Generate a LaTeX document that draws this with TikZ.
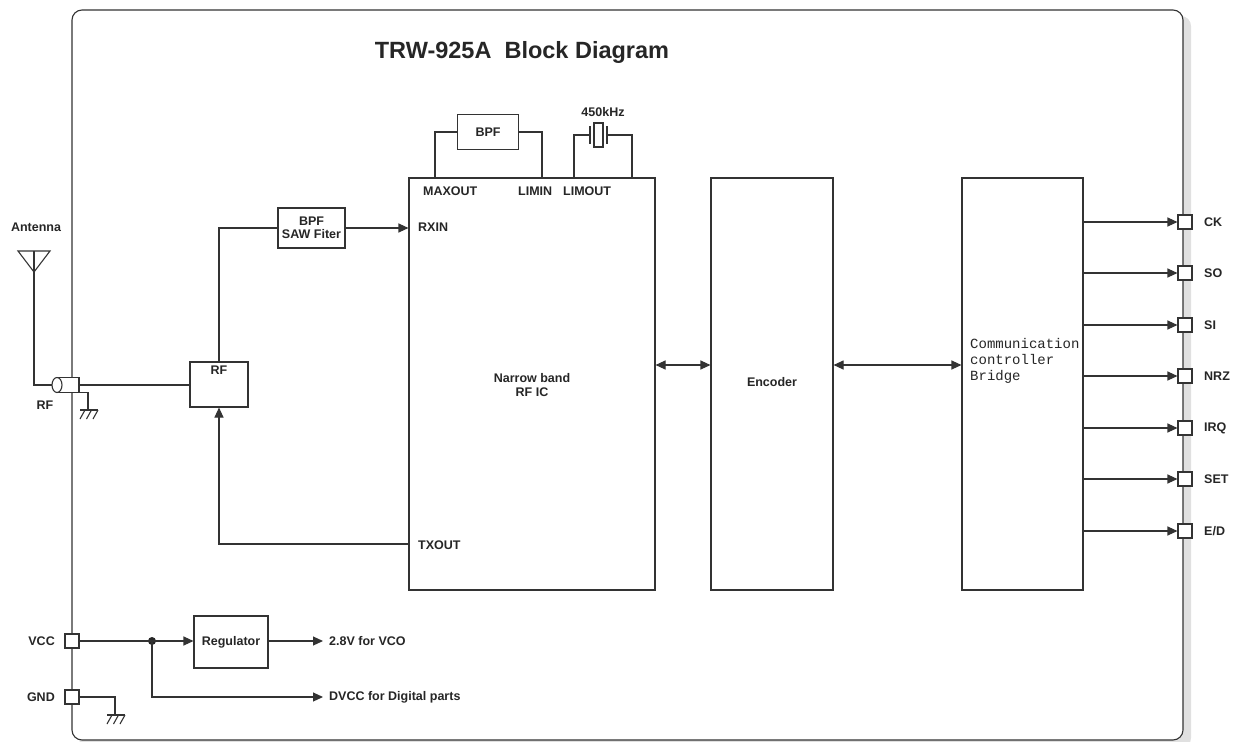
\documentclass[tikz,border=0pt]{standalone}
\usepackage{fontspec}
\setmainfont{Liberation Sans}
\newfontfamily\monofont{Liberation Mono}
\usetikzlibrary{arrows.meta,positioning}

\tikzset{
  wire/.style={draw=black!80, line width=1.1pt},
  blk/.style={wire, rectangle, fill=white, inner sep=0pt},
  port/.style={blk, minimum size=14pt},
  lbl/.style={font=\fontsize{12.5}{14}\selectfont\bfseries, text=black!85, inner sep=1pt},
  arr/.style={wire, -{Triangle[length=10pt,width=9pt]}},
  darr/.style={wire, {Triangle[length=10pt,width=9pt]}-{Triangle[length=10pt,width=9pt]}},
  gnd/.pic={
    \draw[wire] (-8,0) -- (10,0);
    \draw[wire] (-3,0) -- (-8,9) (3.5,0) -- (-1.5,9) (10,0) -- (5,9);
  }
}

\begin{document}
\begin{tikzpicture}[x=1pt,y=-1pt]
\useasboundingbox (0,0) rectangle (1243,742);

% frame with shadow
\fill[black!12, rounded corners=10pt] (79,16) rectangle (1191,748);
\draw[wire, fill=white, rounded corners=10pt] (72,10) rectangle (1183,740);

\node[font=\fontsize{23.5}{26}\selectfont\bfseries, text=black!85] (title) at (522,52) {TRW-925A\ \ Block Diagram};

% main blocks
\node[blk, minimum width=246pt, minimum height=412pt] (ic) at (532,384) {};
\node[blk, minimum width=122pt, minimum height=412pt] (enc) at (772,384) {};
\node[blk, minimum width=121pt, minimum height=412pt] (comm) at (1022.5,384) {};

\node[lbl, align=center] (iclbl) at (532,385) {Narrow band\\RF IC};
\node[lbl] (enclbl) at (772,382) {Encoder};
\node[anchor=west, align=left, font=\monofont\fontsize{14}{16}\selectfont, text=black!85, inner sep=0pt] (commlbl) at (970,361) {Communication\\controller\\Bridge};

\node[lbl, anchor=west] (maxout) at (422,191) {MAXOUT};
\node[lbl, anchor=west] (limin) at (517,191) {LIMIN};
\node[lbl, anchor=west] (limout) at (562,191) {LIMOUT};
\node[lbl, anchor=west] (rxin) at (417,227) {RXIN};
\node[lbl, anchor=west] (txout) at (417,545) {TXOUT};

\draw[darr] (ic.east |- 0,365) -- (enc.west |- 0,365);
\draw[darr] (enc.east |- 0,365) -- (comm.west |- 0,365);

% IF filter and crystal
\node[blk, minimum width=61pt, minimum height=35pt] (bpf) at (488,132) {};
\node[lbl] at (bpf) {BPF};
\coordinate (maxpin) at (435,178);
\coordinate (liminpin) at (542,178);
\draw[wire] (maxpin) |- (bpf.west);
\draw[wire] (liminpin) |- (bpf.east);

\coordinate (limoutpin) at (574,178);
\coordinate (xtalpin) at (632,178);
\draw[wire, fill=white] (594,123) rectangle (603,147);
\draw[wire] (590,126) -- (590,144) (607,126) -- (607,144);
\draw[wire] (limoutpin) |- (590,135);
\draw[wire] (xtalpin) |- (607,135);
\node[lbl] (xtal) at (603,112) {450kHz};

% RF front end
\node[blk, minimum width=67pt, minimum height=40pt] (saw) at (311.5,228) {};
\node[lbl, align=center, font=\fontsize{12.5}{13.5}\selectfont\bfseries] at (saw) {BPF\\SAW Fiter};
\draw[arr] (saw.east) -- (saw.east -| ic.west);

\node[blk, minimum width=58pt, minimum height=45pt] (rf) at (219,384.5) {};
\node[lbl, below=3pt of rf.north] (rflbl) {RF};
\draw[wire] (saw.west) -| (rf.north);
\coordinate (txpin) at (409,544);
\draw[arr] (txpin) -| (rf.south);

% antenna and connector
\node[lbl] (antlbl) at (36,227) {Antenna};
\draw[wire] (18,251) -- (50,251) -- (34,272) -- cycle;
\draw[wire] (34,251) -- (34,385) -- (52,385);
\draw[wire, fill=white] (57,377.5) rectangle (79,392.5);
\draw[wire, fill=white] (57,385) ellipse [x radius=5, y radius=7.5];
\coordinate (coax) at (79,385);
\draw[wire] (coax) -- (rf.west |- coax);
\draw[wire] (79,392.5) -| (88,410);
\pic at (88,410) {gnd};
\node[lbl] (rfconlbl) at (45,405) {RF};

% outputs
\foreach \y/\name in {222/CK, 273/SO, 325/SI, 376/NRZ, 428/IRQ, 479/SET, 531/E\slash D} {
  \node[port] (p\y) at (1185,\y) {};
  \node[lbl, anchor=west] at (1203,\y) {\name};
  \draw[arr] (comm.east |- p\y) -- (p\y.west);
}

% power
\node[port] (vcc) at (72,641) {};
\node[port] (gnd) at (72,697) {};
\node[lbl, anchor=east] at (56,641) {VCC};
\node[lbl, anchor=east] at (56,697) {GND};
\node[blk, minimum width=74pt, minimum height=52pt] (reg) at (231,642) {};
\node[lbl] at (reg) {Regulator};
\coordinate (dot) at (152,641);
\fill[black!85] (dot) circle (4pt);
\draw[wire] (vcc.east) -- (dot);
\draw[arr] (dot) -- (reg.west |- dot);
\coordinate (vco) at (323,641);
\draw[arr] (reg.east |- dot) -- (vco);
\node[lbl, anchor=west] at (328,641) {2.8V for VCO};
\coordinate (dvcc) at (323,697);
\draw[arr] (dot) |- (dvcc);
\node[lbl, anchor=west] at (328,697) {DVCC for Digital parts};
\draw[wire] (gnd.east) -| (115,715);
\pic at (115,715) {gnd};
\end{tikzpicture}
\end{document}
